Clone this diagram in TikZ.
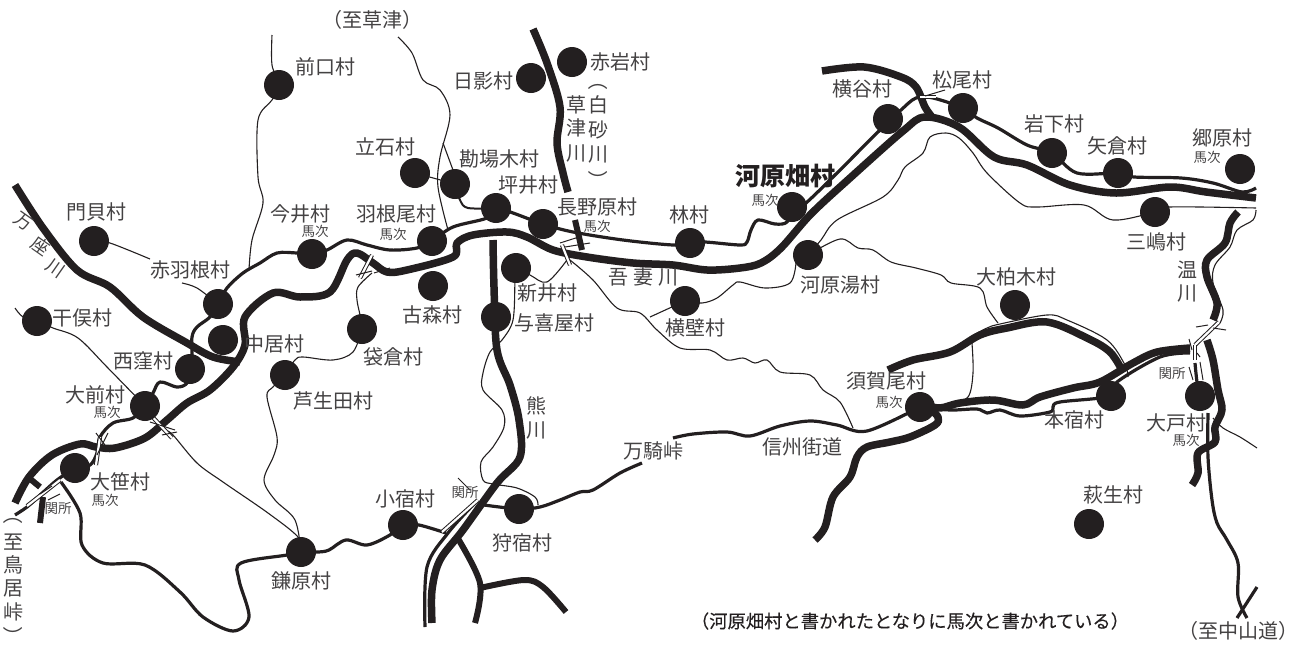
\documentclass[tikz,border=0pt]{standalone}
\usepackage{fontspec}
\setmainfont{Noto Sans CJK JP}
\newfontfamily\notefont[FakeBold=0.25]{Noto Sans CJK JP}
\usetikzlibrary{backgrounds}
\definecolor{ink}{HTML}{231F20}
\definecolor{txt}{HTML}{444243}
\tikzset{
 village/.style={circle,fill=ink,minimum size=30pt,inner sep=0pt},
 lbl/.style={inner sep=0pt,text=txt,font=\fontsize{20}{20}\selectfont},
 lblr/.style={inner sep=0pt,text=txt,font=\fontsize{18}{18}\selectfont},
 sm/.style={inner sep=0pt,text=txt,font=\fontsize{13.5}{13.5}\selectfont},
 big/.style={inner sep=0pt,text=ink,font=\fontsize{25}{25}\selectfont\bfseries},
 river/.style={draw=ink,line width=7.5pt,line join=round},
 riverb/.style={draw=ink,line width=6pt,line join=round},
 road/.style={draw=ink,line width=3.2pt,line join=round},
 roadm/.style={draw=ink,line width=2pt,line join=round},
 thn/.style={draw=ink,line width=1.1pt,line join=round},
 strip/.style={draw=ink,line width=1pt,double=white,double distance=2.2pt},
 tick/.style={draw=ink,line width=1pt}
}
\newcommand\rvr[1]{\draw[river] plot[smooth,tension=.55] coordinates {#1};}
\newcommand\rvb[1]{\draw[riverb] plot[smooth,tension=.55] coordinates {#1};}
\newcommand\rdd[1]{\draw[road] plot[smooth,tension=.55] coordinates {#1};}
\newcommand\rdm[1]{\draw[roadm] plot[smooth,tension=.55] coordinates {#1};}
\newcommand\thnl[1]{\draw[thn] plot[smooth,tension=.55] coordinates {#1};}
\begin{document}
\begin{tikzpicture}[x=1pt,y=-1pt]
\useasboundingbox (0,0) rectangle (1302,646);
% villages
\foreach \n/\p in {maeguchi/{279,85},akaiwa/{572,62},hikage/{531,78},tateishi/{415,173},kanba/{455,184},tsuboi/{496,208},naganohara/{543,224},hayashi/{690,243},haneo/{432,241},komori/{433,286},arai/{516,268},yokiya/{496,317},yokokabe/{685,301},kawarahata/{792,207},kawarayu/{808,255},yokoya/{888,119},matsuo/{963,108},iwashita/{1052,153},yagura/{1118,173},gobara/{1240,169},mishima/{1155,212},kashiwagi/{1015,305},sugao/{920,407},motojuku/{1111,396},odo/{1200,396},hagyu/{1089,524},kojuku/{403,525},kariyado/{519,509},kanbara/{301,552},ozasa/{75,468},omae/{145,406},nishikubo/{190,369},hoshimata/{37,321},nakai/{223,340},akabane/{218,304},kadokai/{94,241},imai/{312,254},fukurogura/{362,329},azoda/{285,375}}
 {\node[village] (\n) at (\p) {};}
% labels
\foreach \n/\p/\t in {la/{325,67}/前口村,lb/{620,62}/赤岩村,lc/{483,81}/日影村,ld/{385,147}/立石村,le/{499,159}/勘場木村,lf/{528,185}/坪井村,lg/{597,207}/長野原村,lh/{689,215}/林村,li/{396,214}/羽根尾村,lj/{432,315}/古森村,lk/{547,293}/新井村,ll/{554,323}/与喜屋村,lm/{695,328}/横壁村,ln/{840,285}/河原湯村,lo/{862,89}/横谷村,lp/{962,80}/松尾村,lq/{1054,124}/岩下村,lr/{1117,146}/矢倉村,ls/{1222,138}/郷原村,lt/{1156,242}/三嶋村,lu/{1016,277}/大柏木村,lv/{886,381}/須賀尾村,lw/{1074,420}/本宿村,lx/{1176,423}/大戸村,ly/{1113,495}/萩生村,lz/{405,499}/小宿村,ma/{522,543}/狩宿村,mb/{301,581}/鎌原村,mc/{120,482}/大笹村,md/{95,395}/大前村,me/{143,361}/西窪村,mf/{82,318}/干俣村,mg/{274,344}/中居村,mh/{190,270}/赤羽根村,mi/{96,212}/門貝村,mj/{300,214}/今井村,mk/{393,357}/袋倉村,ml/{333,401}/芦生田村,mm/{653,451}/万騎峠,mn/{802,447}/信州街道,mo/{372,20}/（至草津）,mp/{1238,631}/（至中山道）}
 {\node[lbl] (\n) at (\p) {\t};}
\foreach \n/\p/\t in {sa/{315,231}/馬次,sb/{393,234}/馬次,sc/{597,226}/馬次,sd/{765,200}/馬次,se/{1207,157}/馬次,sf/{889,402}/馬次,sg/{1186,440}/馬次,sh/{105,500}/馬次,si/{107,412}/馬次,sj/{58,508}/関所,sk/{465,492}/関所,sl/{1172,373}/関所}
 {\node[sm] (\n) at (\p) {\t};}
\node[big] (lbig) at (785,176) {河原畑村};
\foreach \n/\p/\t in {va/{618,277}/吾,vb/{643,277}/妻,vc/{668,277}/川,vd/{536,406}/熊,ve/{536,430}/川,vf/{1187,270}/温,vg/{1187,293}/川,vh/{576,105}/草,vi/{576,128}/津,vj/{576,153}/川,vk/{598,105}/白,vl/{598,130}/砂,vm/{598,154}/川,vn/{13,542}/至,vo/{13,565}/鳥,vp/{13,588}/居,vq/{13,612}/峠}
 {\node[lbl] (\n) at (\p) {\t};}
\node[lbl,rotate=-90] (vr) at (598,80) {（};
\node[lbl,rotate=-90] (vs) at (598,180) {）};
\node[lbl,rotate=-90] (vt) at (13,514) {（};
\node[lbl,rotate=-90] (vu) at (13,636) {）};
\node[lblr,rotate=-35] (wa) at (23,222) {万};
\node[lblr,rotate=-35] (wb) at (41,246) {座};
\node[lblr,rotate=-35] (wc) at (55,268) {川};
\node[inner sep=0pt,text=ink,font=\notefont\fontsize{18.3}{19}\selectfont] (note) at (910,621) {（河原畑村と書かれたとなりに馬次と書かれている）};
\begin{pgfonlayer}{background}
% rivers
\rvr{(15,185)(43,228)(77,270)(110,287)(143,317)(187,343)(213,357)(240,362)}
\rvr{(15,503)(29,477)(52,455)(80,444)(96,447)(115,448)(145,438)(167,420)(187,403)(210,390)(233,367)(245,345)(245,317)(273,293)(300,297)(330,292)(347,260)(357,253)(373,263)(387,272)(407,270)(453,257)(457,243)(473,235)(507,232)(527,237)(553,250)(587,257)(633,263)(673,265)(707,270)(740,268)(761,263)(781,248)(811,214)(850,178)(903,131)(925,117)(959,127)(994,157)(1027,165)(1070,185)(1116,193)(1170,187)(1206,192)(1256,198)}
\rvr{(822,71)(864,67)(901,77)(916,87)(925,107)(932,117)}
\rvb{(29,478)(40,487)}
\rvb{(43,497)(40,523)}
\rvr{(533,29)(547,63)(560,107)(557,143)(563,173)(568,192)}
\rvb{(575,220)(582,250)}
\rvr{(493,240)(494,287)(497,350)(510,385)(519,420)(520,457)(497,483)(463,530)(440,560)(432,590)(432,623)}
\rvb{(457,537)(480,583)(475,623)}
\rvb{(480,588)(524,580)(543,587)(566,612)}
\rvr{(888,370)(913,360)(950,352)(980,335)(1007,328)(1047,322)(1087,338)(1110,352)(1123,372)}
\rvr{(925,405)(940,408)(960,403)(993,400)(1023,405)(1040,397)(1073,388)(1100,382)(1133,363)(1157,352)(1190,348)}
\rvr{(928,407)(938,417)(935,425)(910,437)(890,442)(867,447)(857,457)(850,477)(833,497)(825,527)(815,540)}
\rvr{(1238,212)(1230,223)(1225,243)(1207,260)(1207,277)(1217,303)(1213,320)}
\rvr{(1207,340)(1213,360)(1218,390)(1222,410)(1215,427)(1215,442)(1198,453)(1198,473)(1192,485)}
% main roads
\rdd{(kawarahata)(787,222)(775,224)(758,220)(751,230)(747,242)(740,245)(705,242)(hayashi)(673,245)(623,240)(573,232)(naganohara)(513,213)(tsuboi)(487,218)(453,227)(haneo)(417,248)(390,250)(367,245)(347,240)(327,250)(imai)(297,253)(277,253)(260,263)(243,273)(227,288)(akabane)(210,317)(197,327)(192,337)(192,357)(nishikubo)(187,383)(177,387)(160,382)(153,393)(omae)(133,418)(113,423)(100,437)(97,453)(90,465)(ozasa)}
\rdd{(kawarahata)(806,203)(880,130)(901,110)(916,98)(933,98)(matsuo)(977,118)(998,128)(1027,145)(iwashita)(1077,173)(yagura)(1134,177)(1181,178)(1213,183)(1242,192)(1256,188)}
\rdd{(ozasa)(57,480)(38,497)(27,507)(15,515)}
\rdd{(61,482)(80,513)(82,545)(103,563)(145,565)(180,592)(203,617)(233,631)(249,617)(239,580)(241,563)(287,555)(kanbara)(318,552)(329,550)(346,540)(367,545)(390,535)(kojuku)(419,525)(446,533)}
\rdd{(484,505)(kariyado)(540,507)(560,500)(580,492)(593,490)(620,473)(642,463)}
\rdd{(673,438)(693,434)(727,432)(750,436)(780,426)(810,421)(837,425)(867,431)(sugao)}
\rdd{(sugao)(950,410)(977,409)(987,413)(1000,410)(1020,416)(1050,412)(1053,407)(1060,402)(motojuku)(1117,382)(1160,357)(1190,353)}
\rdd{(1195,363)(1197,382)(odo)}
\rdd{(1208,413)(1208,457)(1212,500)(1217,523)(1227,540)(1238,563)(1238,597)(1247,618)}
\rdd{(1257,587)(1237,618)}
\rdd{(475,503)(448,533)(427,567)(425,627)}
% thin roads
\thnl{(272,35)(272,65)(maeguchi)(272,100)(258,120)(258,177)(263,203)(252,240)(249,270)}
\thnl{(398,37)(412,53)(423,80)(440,90)(450,115)(440,157)(438,187)(448,230)}
\thnl{(443,143)(453,170)}
\thnl{(tateishi)(kanba)}
\rdm{(kanba)(460,200)(468,208)(tsuboi)}
\thnl{(kadokai)(110,243)(150,259)}
\thnl{(182,283)(197,288)(akabane)}
\thnl{(15,308)(23,317)(hoshimata)(53,328)(78,338)(107,367)(omae)}
\thnl{(165,430)(173,435)(197,463)(223,482)(268,513)(298,537)(kanbara)}
\thnl{(azoda)(273,387)(267,397)(277,437)(274,455)(264,480)(275,500)(295,520)(kanbara)}
\thnl{(azoda)(295,360)(303,357)(333,360)(353,352)(fukurogura)}
\thnl{(fukurogura)(360,315)(357,300)(358,287)(372,273)}
\thnl{(arai)(530,275)(547,282)(567,260)}
\thnl{(arai)(515,280)(513,320)(502,340)(490,352)(483,373)(483,390)(502,410)(504,427)(493,447)(481,462)(483,480)(493,484)(517,488)(535,497)(538,505)}
\thnl{(570,260)(593,280)(617,308)(640,313)(657,330)(680,348)(710,350)(727,360)(743,358)(755,363)(767,360)(780,372)(810,375)(823,390)(840,402)(853,428)}
\thnl{(650,317)(yokokabe)}
\thnl{(yokokabe)(702,303)(717,298)(733,285)(740,282)(765,288)(790,283)(796,263)}
\thnl{(kawarayu)(821,240)(837,220)(883,197)(898,180)(905,167)(923,153)(930,137)(946,133)(959,138)(973,153)(987,173)(1020,203)(1037,207)(1084,205)(1113,220)(mishima)(1170,207)(1256,208)}
\thnl{(kawarayu)(840,239)(858,248)(873,250)(891,262)(916,268)(941,275)(951,283)(980,288)(987,307)(998,323)}
\thnl{(970,337)(987,328)(1000,324)(1047,315)(1067,320)(1107,340)(1125,365)(1128,377)}
\thnl{(972,343)(973,373)(968,397)(950,403)}
\thnl{(1256,210)(1253,220)(1237,230)(1230,247)(1215,265)(1213,283)(1223,310)(1220,323)}
\thnl{(1213,418)(1223,428)(1240,437)(1257,448)}
% double strips with crossing ticks (bridges)
\foreach \n/\a/\b in {b1/{372,255}/{360,278},b2/{148,412}/{172,438},b3/{100,437}/{96,465},b4/{562,245}/{570,265},b5/{1219,322}/{1195,345},b6/{442,532}/{478,500},b7/{920,97}/{936,97},b8/{60,480}/{27,506},b9/{1195,345}/{1195,360}}
 {\coordinate (\n s) at (\a); \coordinate (\n e) at (\b); \draw[strip] (\n s) -- (\n e);}
\foreach \a/\b in {{356,275}/{372,271},{374,273}/{390,268},{150,422}/{175,430},{162,435}/{177,432},{96,433}/{105,445},{108,433}/{97,455},{560,243}/{582,236},{565,247}/{590,243},{1196,327}/{1208,325},{1213,328}/{1226,330},{1189,339}/{1192,350},{1197,353}/{1200,357},{1189,367}/{1193,380},{1200,362}/{1203,380},{40,494}/{52,486},{48,500}/{60,494},{458,478}/{470,490},{925,96}/{945,90}}
 {\draw[tick] (\a) -- (\b);}
\end{pgfonlayer}
\end{tikzpicture}
\end{document}
